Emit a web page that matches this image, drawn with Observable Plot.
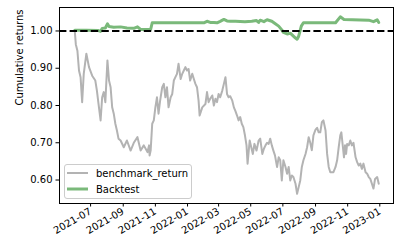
<!DOCTYPE html>
<html>
<head>
<meta charset="utf-8">
<script src="https://cdn.jsdelivr.net/npm/d3@7"></script>
<script src="https://cdn.jsdelivr.net/npm/@observablehq/plot@0.6"></script>
<style>
  html, body { margin: 0; padding: 0; background: #fff; }
  #chart svg { font-family: "DejaVu Sans", sans-serif; font-size: 10px; color: #000; background: #fff; }
</style>
</head>
<body>
<div id="chart"></div>
<script>
// ---- data ----
const benchDates = [
"2021-06-01","2021-06-03","2021-06-06","2021-06-09","2021-06-12","2021-06-15","2021-06-18","2021-06-23","2021-06-28","2021-07-04",
"2021-07-10","2021-07-13","2021-07-16","2021-07-20","2021-07-23","2021-07-26","2021-07-29","2021-08-02","2021-08-05","2021-08-08",
"2021-08-11","2021-08-14","2021-08-17","2021-08-20","2021-08-23","2021-08-27","2021-09-02","2021-09-08","2021-09-15","2021-09-21",
"2021-09-28","2021-10-04","2021-10-10","2021-10-17","2021-10-20","2021-10-21","2021-10-23","2021-10-26","2021-10-29","2021-11-01",
"2021-11-04","2021-11-07","2021-11-10","2021-11-14","2021-11-17","2021-11-20","2021-11-23","2021-11-26","2021-11-30","2021-12-03",
"2021-12-06","2021-12-09","2021-12-12","2021-12-15","2021-12-19","2021-12-22","2021-12-25","2021-12-28","2021-12-31","2022-01-03",
"2022-01-06","2022-01-10","2022-01-13","2022-01-16","2022-01-19","2022-01-22","2022-01-24","2022-01-29","2022-02-04","2022-02-07",
"2022-02-10","2022-02-13","2022-02-17","2022-02-20","2022-02-23","2022-02-26","2022-03-01","2022-03-04","2022-03-08","2022-03-11",
"2022-03-14","2022-03-17","2022-03-20","2022-03-23","2022-03-27","2022-03-30","2022-04-02","2022-04-05","2022-04-08","2022-04-11",
"2022-04-14","2022-04-17","2022-04-20","2022-04-23","2022-04-25","2022-04-29","2022-05-02","2022-05-05","2022-05-08","2022-05-12",
"2022-05-16","2022-05-19","2022-05-23","2022-05-26","2022-05-29","2022-06-01","2022-06-04","2022-06-07","2022-06-10","2022-06-13",
"2022-06-16","2022-06-20","2022-06-23","2022-06-26","2022-06-29","2022-07-02","2022-07-06","2022-07-09","2022-07-12","2022-07-15",
"2022-07-18","2022-07-21","2022-07-25","2022-07-28","2022-07-31","2022-08-03","2022-08-06","2022-08-09","2022-08-13","2022-08-16",
"2022-08-19","2022-08-22","2022-08-25","2022-08-28","2022-09-01","2022-09-04","2022-09-07","2022-09-10","2022-09-13","2022-09-16",
"2022-09-20","2022-09-23","2022-09-26","2022-09-29","2022-10-02","2022-10-05","2022-10-09","2022-10-12","2022-10-15","2022-10-18",
"2022-10-20","2022-10-23","2022-10-25","2022-10-27","2022-10-29","2022-10-31","2022-11-03","2022-11-06","2022-11-09","2022-11-12",
"2022-11-16","2022-11-19","2022-11-22","2022-11-25","2022-11-28","2022-12-01","2022-12-05","2022-12-08","2022-12-11","2022-12-14",
"2022-12-17","2022-12-20","2022-12-23","2022-12-27","2022-12-30"
];
const benchValues = [
1.000,0.964,0.947,0.894,0.876,0.809,0.885,0.939,0.903,0.880,
0.867,0.840,0.805,0.760,0.822,0.836,0.809,0.921,0.867,0.849,
0.795,0.778,0.751,0.733,0.711,0.706,0.688,0.706,0.679,0.700,
0.715,0.679,0.693,0.675,0.693,0.666,0.679,0.751,0.760,0.795,
0.822,0.778,0.813,0.849,0.858,0.822,0.849,0.795,0.822,0.831,
0.867,0.876,0.885,0.912,0.871,0.885,0.894,0.903,0.894,0.898,
0.867,0.885,0.871,0.858,0.849,0.813,0.773,0.795,0.804,0.836,
0.809,0.818,0.827,0.800,0.818,0.809,0.831,0.822,0.840,0.858,
0.876,0.831,0.822,0.825,0.813,0.795,0.785,0.773,0.760,0.769,
0.751,0.742,0.720,0.693,0.644,0.706,0.688,0.670,0.697,0.679,
0.706,0.711,0.670,0.684,0.693,0.700,0.697,0.711,0.693,0.679,
0.666,0.635,0.661,0.653,0.599,0.653,0.635,0.617,0.635,0.599,
0.612,0.608,0.590,0.563,0.581,0.599,0.635,0.653,0.670,0.688,
0.715,0.700,0.680,0.720,0.735,0.740,0.728,0.728,0.755,0.760,
0.733,0.670,0.635,0.621,0.621,0.621,0.635,0.653,0.688,0.720,
0.728,0.688,0.661,0.693,0.670,0.697,0.693,0.706,0.693,0.700,
0.661,0.648,0.639,0.644,0.630,0.644,0.621,0.617,0.608,0.603,
0.590,0.577,0.603,0.608,0.590
];
const backtestDates = [
"2021-06-01","2021-06-23","2021-07-16","2021-07-20","2021-07-23","2021-07-29","2021-08-02","2021-08-05","2021-08-14","2021-08-27",
"2021-09-08","2021-09-21","2021-09-28","2021-10-04","2021-10-17","2021-10-23","2021-10-26","2022-02-01","2022-02-07","2022-02-13",
"2022-02-20","2022-02-26","2022-03-04","2022-03-11","2022-03-17","2022-03-23","2022-04-02","2022-04-20","2022-05-03","2022-05-12",
"2022-05-16","2022-05-19","2022-05-26","2022-06-01","2022-06-10","2022-06-16","2022-06-23","2022-06-29","2022-07-02","2022-07-09",
"2022-07-15","2022-07-18","2022-07-25","2022-07-28","2022-07-31","2022-08-05","2022-08-09","2022-10-09","2022-10-18","2022-10-25",
"2022-12-11","2022-12-20","2022-12-27","2022-12-30"
];
const backtestValues = [
1.002,1.002,1.001,0.999,1.007,1.008,1.019,1.012,1.010,1.011,
1.008,1.007,1.011,1.004,1.004,1.004,1.022,1.022,1.026,1.023,
1.023,1.022,1.026,1.031,1.027,1.026,1.026,1.025,1.026,1.028,
1.023,1.029,1.025,1.030,1.026,1.020,1.013,1.003,0.996,0.992,
0.994,0.990,0.981,0.978,0.986,1.013,1.022,1.022,1.038,1.031,
1.029,1.025,1.030,1.023
];
const xTickLabels = ["2021-07","2021-09","2021-11","2022-01","2022-03","2022-05","2022-07","2022-09","2022-11","2023-01"];
const yTickValues = [0.60, 0.70, 0.80, 0.90, 1.00];
const baseline = [1.0];
const seriesNames = ["benchmark_return", "Backtest"];
const seriesColors = ["#b3b3b3", "#7ab97a"];

// ---- build ----
const parseDay = d3.utcParse("%Y-%m-%d");
const parseMonth = d3.utcParse("%Y-%m");
const bench = benchDates.map((d, i) => ({date: parseDay(d), value: benchValues[i]}));
const backtest = backtestDates.map((d, i) => ({date: parseDay(d), value: backtestValues[i]}));
const xTicks = xTickLabels.map(parseMonth);

const W = 412, H = 244, mL = 59, mR = 19, mT = 7, mB = 41;

const svg = Plot.plot({
  width: W, height: H,
  marginLeft: mL, marginRight: mR, marginTop: mT, marginBottom: mB,
  style: {fontFamily: "DejaVu Sans, sans-serif", fontSize: "10px", color: "#000", background: "#fff"},
  x: {type: "utc", domain: [parseDay("2021-05-03"), parseDay("2023-01-27")]},
  y: {domain: [0.537, 1.063]},
  marks: [
    Plot.lineY(bench, {x: "date", y: "value", stroke: seriesColors[0], strokeWidth: 2, strokeLinejoin: "round"}),
    Plot.lineY(backtest, {x: "date", y: "value", stroke: seriesColors[1], strokeWidth: 3, strokeLinejoin: "round"}),
    Plot.ruleY(baseline, {stroke: "#000", strokeWidth: 2, strokeDasharray: "7.4,3.2"}),
    Plot.frame({stroke: "#000", strokeWidth: 1}),
    Plot.axisY({ticks: yTickValues, tickFormat: ".2f", tickSize: 3.5, tickPadding: 3.5, label: null}),
    Plot.axisX({ticks: xTicks, tickFormat: d3.utcFormat("%Y-%m"), tickSize: 3.5, tickPadding: 3.5, tickRotate: -30, label: null}),
    Plot.text(["Cumulative returns"], {frameAnchor: "left", rotate: -90, dx: -40, fontSize: 10, fill: "#000"})
  ]
});

// legend (matplotlib style, lower left inside axes)
const lg = d3.select(svg).append("g")
  .attr("transform", `translate(${mL + 5},${H - mB - 39})`)
  .attr("text-anchor", "start");
lg.append("rect").attr("x", 0.5).attr("y", 0.5).attr("width", 127).attr("height", 34)
  .attr("rx", 2.5).attr("fill", "#fff").attr("fill-opacity", 0.8).attr("stroke", "#cccccc").attr("stroke-width", 1);
seriesNames.forEach((name, i) => {
  const y = 9 + i * 16;
  lg.append("line").attr("x1", 3).attr("x2", 24).attr("y1", y).attr("y2", y)
    .attr("stroke", seriesColors[i]).attr("stroke-width", i === 0 ? 2 : 3);
  lg.append("text").attr("x", 32).attr("y", y).attr("dy", "0.35em")
    .attr("text-anchor", "start").attr("fill", "#000").attr("font-size", 10).text(name);
});

document.getElementById("chart").appendChild(svg);
</script>
</body>
</html>
